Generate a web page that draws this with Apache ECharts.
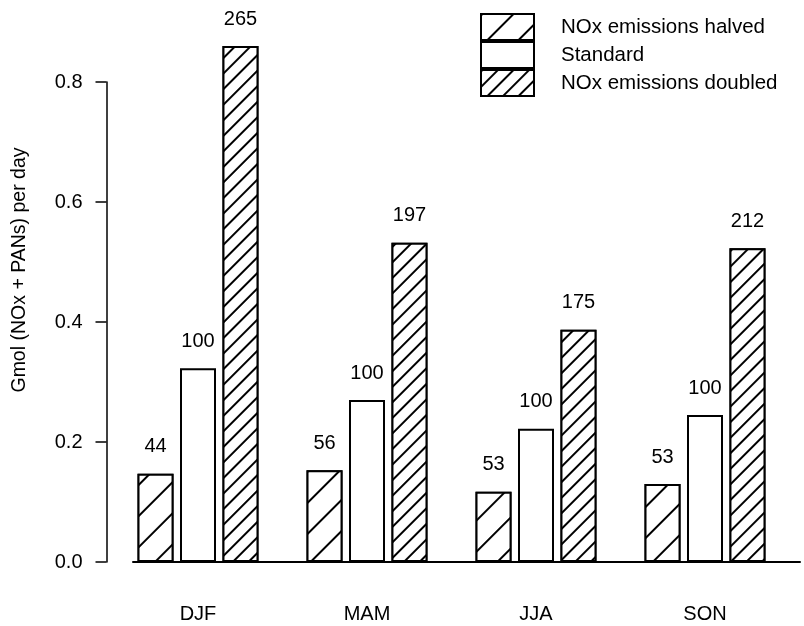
<!DOCTYPE html>
<html>
<head>
<meta charset="utf-8">
<script src="https://cdn.jsdelivr.net/npm/echarts@6/dist/echarts.min.js"></script>
<style>
html,body{margin:0;padding:0;background:#fff;}
#chart{width:804px;height:626px;}
</style>
</head>
<body>
<div id="chart"></div>
<script>
const categories = ['DJF', 'MAM', 'JJA', 'SON'];
const seriesNames = ['NOx emissions halved', 'Standard', 'NOx emissions doubled'];
const halvedValues = [0.147, 0.153, 0.117, 0.130];
const standardValues = [0.323, 0.270, 0.222, 0.245];
const doubledValues = [0.860, 0.532, 0.387, 0.523];
const halvedPct = [44, 56, 53, 53];
const standardPct = [100, 100, 100, 100];
const doubledPct = [265, 197, 175, 212];
const yMin = 0, yMax = 0.8, yStep = 0.2;

const FONT = '"Liberation Sans", Arial, sans-serif';
const chart = echarts.init(document.getElementById('chart'), null, {renderer: 'canvas'});

function hatch(gap, rot) {
  return {
    symbol: 'rect',
    symbolSize: 1,
    dashArrayX: [1, 0],
    dashArrayY: [1.6, gap],
    rotation: rot,
    color: '#000',
    backgroundColor: '#fff'
  };
}

function makeSeries(name, values, pcts, decal) {
  const item = {color: '#fff', borderColor: '#000', borderWidth: 2};
  if (decal) item.decal = decal;
  return {
    name: name,
    type: 'bar',
    data: values,
    barWidth: 36,
    barGap: '18%',
    clip: false,
    itemStyle: item,
    label: {
      show: true,
      position: 'top',
      distance: 17,
      color: '#000',
      fontFamily: FONT,
      fontSize: 20,
      formatter: p => String(pcts[p.dataIndex])
    }
  };
}

const option = {
  animation: false,
  backgroundColor: '#fff',
  textStyle: {fontFamily: FONT},
  legend: {
    orient: 'vertical',
    left: 475,
    top: 8,
    itemWidth: 53,
    itemHeight: 26,
    itemGap: 0,
    icon: 'rect',
    textStyle: {fontFamily: FONT, fontSize: 20.5, color: '#000', padding: [0, 0, 0, 22]},
    data: seriesNames
  },
  grid: [
    {left: 113.5, right: 14.5, top: 82, bottom: 64, containLabel: false},
    {left: 133, right: 4, top: 82, bottom: 64, containLabel: false}
  ],
  xAxis: [
    {
      type: 'category',
      gridIndex: 0,
      data: categories,
      axisLine: {show: false},
      axisTick: {show: false},
      axisLabel: {color: '#000', fontFamily: FONT, fontSize: 20, margin: 42}
    },
    {
      type: 'value',
      gridIndex: 1,
      min: 0, max: 1,
      axisLine: {show: true, lineStyle: {color: '#000', width: 2}},
      axisTick: {show: false},
      axisLabel: {show: false},
      splitLine: {show: false}
    }
  ],
  yAxis: [
    {
      type: 'value',
      gridIndex: 0,
      min: yMin,
      max: yMax,
      interval: yStep,
      offset: 7,
      name: 'Gmol (NOx + PANs) per day',
      nameLocation: 'middle',
      nameGap: 77,
      nameRotate: 90,
      nameTextStyle: {color: '#000', fontFamily: FONT, fontSize: 19.5, padding: [0, 0, 0, 104]},
      axisLine: {show: true, lineStyle: {color: '#000', width: 1.5}},
      axisTick: {show: true, length: 11, lineStyle: {color: '#000', width: 1.5}},
      axisLabel: {color: '#000', fontFamily: FONT, fontSize: 20, margin: 24, formatter: v => v.toFixed(1)},
      splitLine: {show: false}
    },
    {
      type: 'value',
      gridIndex: 1,
      show: false
    }
  ],
  series: [
    makeSeries(seriesNames[0], halvedValues, halvedPct, hatch(20, -Math.PI / 4)),
    makeSeries(seriesNames[1], standardValues, standardPct, null),
    makeSeries(seriesNames[2], doubledValues, doubledPct, hatch(9, -Math.PI / 4))
  ]
};
chart.setOption(option);
</script>
</body>
</html>
